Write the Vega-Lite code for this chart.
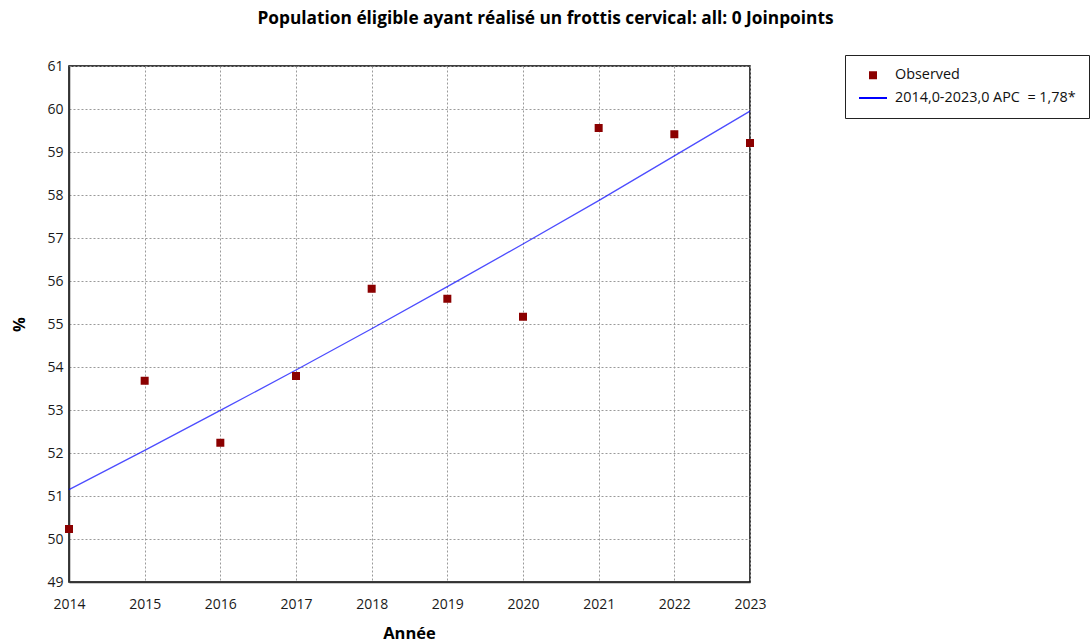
{
  "$schema": "https://vega.github.io/schema/vega-lite/v6.json",
  "autosize": {"type": "none"},
  "width": 681,
  "height": 516,
  "padding": {"left": 69, "top": 66, "right": 341, "bottom": 61},
  "background": "white",
  "title": {
    "text": "Population éligible ayant réalisé un frottis cervical: all: 0 Joinpoints",
    "font": "Open Sans",
    "fontSize": 17.3,
    "fontWeight": "bold",
    "color": "#000000",
    "anchor": "middle",
    "frame": "group",
    "dx": 136,
    "offset": 27
  },
  "config": {
    "view": {"stroke": "#000000", "strokeWidth": 1.5},
    "font": "Open Sans",
    "axis": {
      "labelFont": "Open Sans",
      "labelFontSize": 14,
      "labelColor": "#1a1a1a",
      "labelFlush": false,
      "labelOverlap": false,
      "titleFont": "Open Sans",
      "titleFontSize": 16.5,
      "titleFontWeight": "bold",
      "titleColor": "#000000",
      "domainColor": "#333333",
      "domainWidth": 1.5,
      "ticks": false,
      "gridColor": "#9a9a9a",
      "gridDash": [2, 2],
      "gridWidth": 1,
      "gridOpacity": 1
    },
    "legend": {
      "title": null,
      "orient": "none",
      "legendX": 776,
      "legendY": -11,
      "direction": "vertical",
      "fillColor": "#ffffff",
      "strokeColor": "#222222",
      "padding": 13,
      "rowPadding": -4,
      "labelOffset": 7,
      "labelFont": "Open Sans",
      "labelFontSize": 14.4,
      "labelColor": "#111111",
      "labelLimit": 400,
      "symbolOpacity": 1,
      "symbolStrokeWidth": 2
    }
  },
  "data": {
    "values": [
      {"year": 2014, "value": 50.23, "series": "Observed"},
      {"year": 2015, "value": 53.68, "series": "Observed"},
      {"year": 2016, "value": 52.24, "series": "Observed"},
      {"year": 2017, "value": 53.79, "series": "Observed"},
      {"year": 2018, "value": 55.82, "series": "Observed"},
      {"year": 2019, "value": 55.59, "series": "Observed"},
      {"year": 2020, "value": 55.17, "series": "Observed"},
      {"year": 2021, "value": 59.56, "series": "Observed"},
      {"year": 2022, "value": 59.41, "series": "Observed"},
      {"year": 2023, "value": 59.21, "series": "Observed"},
      {"year": 2014, "value": 51.15, "series": "2014,0-2023,0 APC\u00a0 = 1,78*"},
      {"year": 2015, "value": 52.06, "series": "2014,0-2023,0 APC\u00a0 = 1,78*"},
      {"year": 2016, "value": 52.99, "series": "2014,0-2023,0 APC\u00a0 = 1,78*"},
      {"year": 2017, "value": 53.93, "series": "2014,0-2023,0 APC\u00a0 = 1,78*"},
      {"year": 2018, "value": 54.89, "series": "2014,0-2023,0 APC\u00a0 = 1,78*"},
      {"year": 2019, "value": 55.87, "series": "2014,0-2023,0 APC\u00a0 = 1,78*"},
      {"year": 2020, "value": 56.86, "series": "2014,0-2023,0 APC\u00a0 = 1,78*"},
      {"year": 2021, "value": 57.87, "series": "2014,0-2023,0 APC\u00a0 = 1,78*"},
      {"year": 2022, "value": 58.91, "series": "2014,0-2023,0 APC\u00a0 = 1,78*"},
      {"year": 2023, "value": 59.95, "series": "2014,0-2023,0 APC\u00a0 = 1,78*"}
    ]
  },
  "encoding": {
    "x": {
      "field": "year",
      "type": "quantitative",
      "scale": {"domain": [2014, 2023], "nice": false, "zero": false},
      "axis": {
        "title": "Année",
        "values": [2014, 2015, 2016, 2017, 2018, 2019, 2020, 2021, 2022, 2023],
        "format": "d",
        "labelPadding": 15,
        "titleX": 340,
        "titleY": 51,
        "titleAlign": "center",
        "titleBaseline": "middle"
      }
    },
    "y": {
      "field": "value",
      "type": "quantitative",
      "scale": {"domain": [49, 61], "nice": false, "zero": false},
      "axis": {
        "title": "%",
        "values": [49, 50, 51, 52, 53, 54, 55, 56, 57, 58, 59, 60, 61],
        "labelPadding": 6,
        "titleAngle": -90,
        "titleX": -50,
        "titleY": 258,
        "titleAlign": "center",
        "titleBaseline": "middle"
      }
    },
    "color": {
      "field": "series",
      "type": "nominal",
      "scale": {
        "domain": ["Observed", "2014,0-2023,0 APC\u00a0 = 1,78*"],
        "range": ["#8b0000", "#0000ff"]
      }
    }
  },
  "layer": [
    {
      "transform": [{"filter": "datum.series !== 'Observed'"}],
      "mark": {"type": "line", "strokeWidth": 1.3, "opacity": 0.7}
    },
    {
      "transform": [{"filter": "datum.series === 'Observed'"}],
      "mark": {"type": "point", "filled": true, "opacity": 1, "stroke": "#8b0000", "strokeWidth": 2},
      "encoding": {
        "shape": {
          "field": "series",
          "type": "nominal",
          "scale": {
            "domain": ["Observed", "2014,0-2023,0 APC\u00a0 = 1,78*"],
            "range": ["square", "stroke"]
          }
        },
        "size": {
          "field": "series",
          "type": "nominal",
          "scale": {
            "domain": ["Observed", "2014,0-2023,0 APC\u00a0 = 1,78*"],
            "range": [36, 784]
          }
        }
      }
    }
  ]
}
